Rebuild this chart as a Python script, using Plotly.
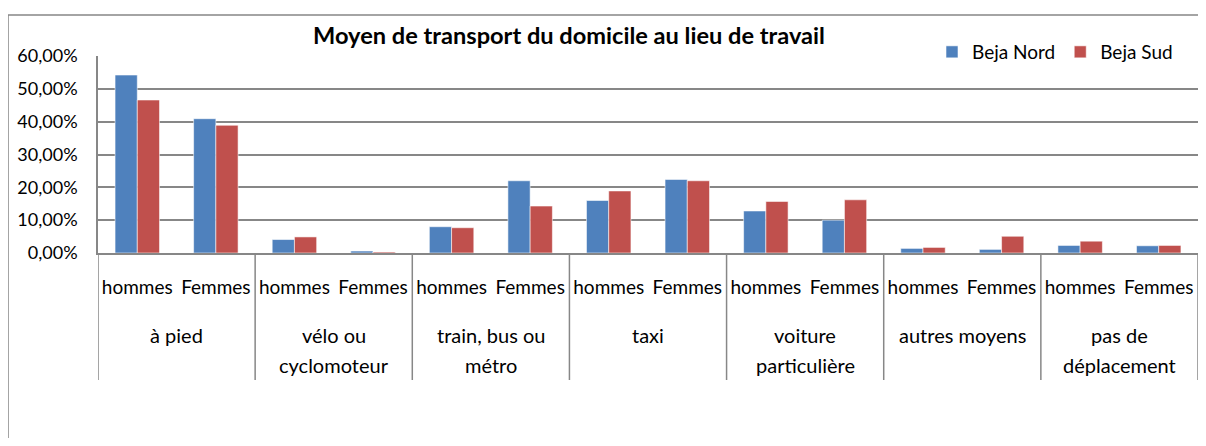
import plotly.graph_objects as go

# ---- data ----
groups = ["à pied", "vélo ou<br>cyclomoteur", "train, bus ou<br>métro", "taxi",
          "voiture<br>particulière", "autres moyens", "pas de<br>déplacement"]
sexes = ["hommes", "Femmes"]
beja_nord = [0.542, 0.409, 0.041, 0.006, 0.080, 0.220, 0.160, 0.224,
             0.128, 0.100, 0.014, 0.011, 0.023, 0.022]
beja_sud = [0.466, 0.389, 0.049, 0.003, 0.077, 0.143, 0.189, 0.220,
            0.157, 0.162, 0.017, 0.051, 0.036, 0.023]
y_ticks = [0, 0.1, 0.2, 0.3, 0.4, 0.5, 0.6]

BLUE = "#4F81BD"
RED = "#C0504D"
GRID = "#878787"
FONT = "Lato"

OFF = 8  # default page body margin
W, H = 1206 - 2 * OFF, 446 - 2 * OFF
ML, MR, MT = 98 - OFF, 0, 56 - OFF
MB = H - (253 - OFF)
plot_w = W - ML - MR
plot_h = H - MT - MB


def px_x(page_x):
    return (page_x - OFF - ML) / plot_w


def px_y(page_y):
    return (H - MB - (page_y - OFF)) / plot_h


n = len(groups) * len(sexes)
xpos = list(range(n))
ticktext = [s for g in groups for s in sexes]

bar_line = dict(color="rgba(255,255,255,0.55)", width=1)
fig = go.Figure()
fig.add_trace(go.Bar(x=xpos, y=beja_nord, name="Beja Nord", marker=dict(color=BLUE, line=bar_line)))
fig.add_trace(go.Bar(x=xpos, y=beja_sud, name="Beja Sud", marker=dict(color=RED, line=bar_line)))

shapes = []
for gi in range(len(groups) + 1):
    xb = gi * len(sexes) - 0.5
    shapes.append(dict(type="line", xref="x", yref="paper", x0=xb, x1=xb, y0=0, y1=px_y(380),
                       line=dict(color=GRID, width=1.5)))
shapes.append(dict(type="rect", xref="paper", yref="paper",
                   x0=px_x(8), x1=1.05, y0=-1.3, y1=px_y(15),
                   line=dict(color=GRID, width=1.5), fillcolor="rgba(0,0,0,0)"))

annotations = []
for gi, g in enumerate(groups):
    lines = g.split("<br>")
    xc = gi * len(sexes) + (len(sexes) - 1) / 2
    for li, t in enumerate(lines):
        annotations.append(dict(text=t, x=xc, xref="x", y=px_y(335 + li * 30), yref="paper",
                                yanchor="middle", xanchor="center", showarrow=False,
                                font=dict(family=FONT, size=20, color="#000")))

fig.update_layout(
    width=W, height=H,
    margin=dict(l=ML, r=MR, t=MT, b=MB, pad=0),
    paper_bgcolor="white", plot_bgcolor="white",
    font=dict(family=FONT, color="#000"),
    separators=", ",
    barmode="group", bargap=0.434, bargroupgap=0,
    title=dict(text="<b>Moyen de transport du domicile au lieu de travail</b>",
               x=(569 - OFF) / W, xref="container", xanchor="center",
               y=1 - (36 - OFF) / H, yref="container", yanchor="middle",
               font=dict(family=FONT, size=23.6, color="#000")),
    legend=dict(orientation="h", x=px_x(1178), xanchor="right",
                y=px_y(52), yanchor="middle",
                bgcolor="rgba(0,0,0,0)", font=dict(family=FONT, size=19, color="#000"),
                itemwidth=30, tracegroupgap=0),
    xaxis=dict(range=[-0.5, n - 0.5], tickmode="array", tickvals=xpos, ticktext=ticktext,
               showgrid=False, zeroline=False, showline=True, linecolor=GRID, linewidth=1.5,
               ticks="", ticklabelstandoff=16, ticklabeloverflow="allow",
               tickfont=dict(family=FONT, size=19, color="#000"),
               fixedrange=True),
    yaxis=dict(range=[0, 0.6], tickmode="array", tickvals=y_ticks, tickformat=".2%",
               showgrid=True, gridcolor=GRID, gridwidth=1.5, zeroline=False,
               showline=True, linecolor=GRID, linewidth=1.5, ticks="",
               ticklabelstandoff=15, tickfont=dict(family=FONT, size=18, color="#000"),
               fixedrange=True),
    shapes=shapes, annotations=annotations,
)

fig.write_html("out.html")
